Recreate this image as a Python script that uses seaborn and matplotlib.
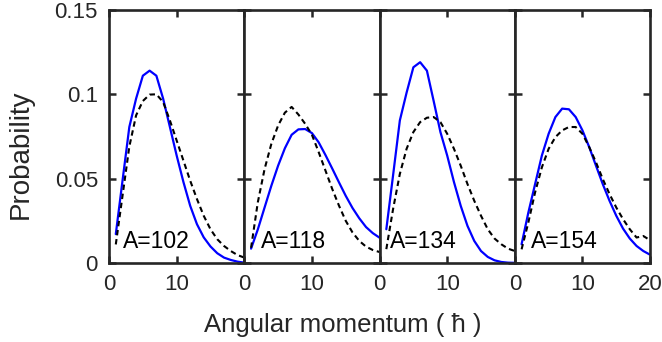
import numpy as np
import pandas as pd
import matplotlib
matplotlib.use("Agg")
import matplotlib.pyplot as plt
import seaborn as sns

# ---------------- data ----------------
L = list(range(1, 21))
panels = ["A=102", "A=118", "A=134", "A=154"]

blue_102 = [0.0171, 0.049, 0.0806, 0.0974, 0.111, 0.114, 0.111, 0.0974, 0.0806, 0.0637,
            0.048, 0.0339, 0.0230, 0.0152, 0.0098, 0.0058, 0.0032, 0.0018, 0.0008, 0.0002]
dash_102 = [0.0110, 0.040, 0.0690, 0.0875, 0.0960, 0.0998, 0.1000, 0.0954, 0.0845, 0.0726,
            0.0607, 0.0488, 0.0379, 0.0280, 0.0200, 0.0141, 0.0101, 0.0071, 0.0047, 0.0032]

blue_118 = [0.0085, 0.0199, 0.0329, 0.0458, 0.0577, 0.0680, 0.0760, 0.0792, 0.0794, 0.0770,
            0.0715, 0.0640, 0.0560, 0.0478, 0.0398, 0.0326, 0.0265, 0.0213, 0.0177, 0.0150]
dash_118 = [0.0090, 0.036, 0.0557, 0.0706, 0.0815, 0.0891, 0.0925, 0.0880, 0.0825, 0.0760,
            0.0657, 0.0548, 0.0439, 0.0340, 0.0250, 0.0181, 0.0131, 0.0097, 0.0077, 0.0065]

blue_134 = [0.0200, 0.052, 0.0845, 0.1010, 0.1160, 0.1190, 0.1140, 0.0960, 0.0776, 0.0637,
            0.0480, 0.0339, 0.0220, 0.0131, 0.0071, 0.0036, 0.0016, 0.0006, 0.0002, 0.0001]
dash_134 = [0.0082, 0.0320, 0.0528, 0.0677, 0.0776, 0.0835, 0.0861, 0.0865, 0.0835, 0.0766,
            0.0677, 0.0577, 0.0468, 0.0369, 0.0280, 0.0200, 0.0145, 0.0111, 0.0085, 0.0071]

blue_154 = [0.0111, 0.0299, 0.0468, 0.0637, 0.0766, 0.0865, 0.0915, 0.0911, 0.0865, 0.0786,
            0.0687, 0.0577, 0.0468, 0.0369, 0.0280, 0.0204, 0.0145, 0.0101, 0.0071, 0.0049]
dash_154 = [0.0081, 0.0240, 0.0419, 0.0567, 0.0677, 0.0746, 0.0786, 0.0806, 0.0806, 0.0766,
            0.0687, 0.0597, 0.0498, 0.0409, 0.0329, 0.0260, 0.0200, 0.0151, 0.0160, 0.0135]

blue_all = [blue_102, blue_118, blue_134, blue_154]
dash_all = [dash_102, dash_118, dash_134, dash_154]

y_ticks = [0, 0.05, 0.1, 0.15]
y_ticklabels = ["0", "0.05", "0.1", "0.15"]
x_ticks = [0, 10, 20]

# ---------------- style ----------------
sns.set_style("ticks")
plt.rcParams["font.family"] = ["Liberation Sans", "DejaVu Sans"]
plt.rcParams["axes.edgecolor"] = "#262626"
plt.rcParams["text.color"] = "#262626"

fig = plt.figure(figsize=(6.62, 3.42), dpi=100)
axes = fig.subplots(1, 4, sharey=True)
fig.subplots_adjust(left=0.1647, right=0.982, bottom=0.231, top=0.971, wspace=0)

label_x = [2.0, 2.4, 1.6, 2.4]

for i, ax in enumerate(axes):
    df = pd.DataFrame({"L": L * 2,
                       "P": blue_all[i] + dash_all[i],
                       "kind": ["calc"] * len(L) + ["ref"] * len(L)})
    sns.lineplot(data=df[df.kind == "calc"], x="L", y="P", ax=ax,
                 color="#0000FF", lw=1.6, legend=False)
    sns.lineplot(data=df[df.kind == "ref"], x="L", y="P", ax=ax,
                 color="black", lw=1.5, legend=False, linestyle=(0, (2.6, 1.8)))
    ax.set_xlim(0, 20)
    ax.set_ylim(0, 0.15)
    ax.set_xticks(x_ticks)
    if i == 3:
        ax.set_xticklabels(["0", "10", "20"])
    else:
        ax.set_xticklabels(["0", "10", ""])
    ax.set_yticks(y_ticks)
    ax.set_yticklabels(y_ticklabels)
    ax.tick_params(direction="in", length=5, width=1.8, colors="#262626",
                   labelsize=16, top=True, right=True, pad=8)
    ax.tick_params(axis="x", pad=8)
    if i > 0:
        ax.tick_params(labelleft=False)
    for s in ax.spines.values():
        s.set_visible(True)
        s.set_linewidth(1.9)
        s.set_color("#262626")
    ax.set_xlabel("")
    ax.set_ylabel("")
    ax.text(label_x[i], 0.0125, panels[i], fontsize=16.5, va="center", ha="left",
            color="black")

fig.text(0.517, 0.05, "Angular momentum ( ħ )", fontsize=18.5, ha="center", va="center")
fig.text(0.032, 0.55, "Probability", fontsize=20, ha="center", va="center", rotation=90)

fig.savefig("out.png", dpi=100)
